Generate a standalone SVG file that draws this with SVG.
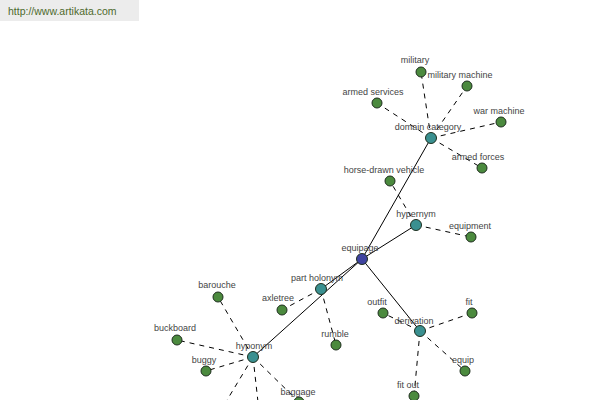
<svg xmlns="http://www.w3.org/2000/svg" width="600" height="400" viewBox="0 0 600 400">
<style>
.s{stroke:#000;stroke-width:1;fill:none}
.d{stroke:#000;stroke-width:1;fill:none;stroke-dasharray:5,5}
.n{stroke:#1e2e1e;stroke-width:1}
.leaf{fill:#4b8a3e}
.cat{fill:#3a9090}
.root{fill:#3f43a0}
text{font-family:"Liberation Sans",Arial,sans-serif;font-size:9px;fill:#444;text-anchor:middle}
</style>
<rect x="0" y="0" width="600" height="400" fill="#fff"/>
<g id="watermark">
<rect x="0" y="0" width="139" height="21" fill="#ececec"/>
<text x="8" y="15" style="text-anchor:start;font-size:10.5px;fill:#4e6a2c">http://www.artikata.com</text>
</g>
<g id="connectors">
<line class="s" x1="362" y1="259" x2="431" y2="138"/>
<line class="s" x1="362" y1="259" x2="416" y2="225"/>
<line class="s" x1="362" y1="259" x2="321" y2="289"/>
<line class="s" x1="362" y1="259" x2="253" y2="357"/>
<line class="s" x1="362" y1="259" x2="420" y2="331"/>
<line class="d" x1="431" y1="138" x2="421" y2="72"/>
<line class="d" x1="431" y1="138" x2="467" y2="86"/>
<line class="d" x1="431" y1="138" x2="377" y2="103"/>
<line class="d" x1="431" y1="138" x2="501" y2="122"/>
<line class="d" x1="431" y1="138" x2="482" y2="168"/>
<line class="d" x1="416" y1="225" x2="390" y2="181"/>
<line class="d" x1="416" y1="225" x2="471" y2="237"/>
<line class="d" x1="321" y1="289" x2="282" y2="310"/>
<line class="d" x1="321" y1="289" x2="336" y2="345"/>
<line class="d" x1="420" y1="331" x2="383" y2="313"/>
<line class="d" x1="420" y1="331" x2="472" y2="313"/>
<line class="d" x1="420" y1="331" x2="465" y2="371"/>
<line class="d" x1="420" y1="331" x2="414" y2="396"/>
<line class="d" x1="253" y1="357" x2="218" y2="297"/>
<line class="d" x1="253" y1="357" x2="177" y2="340"/>
<line class="d" x1="253" y1="357" x2="206" y2="371"/>
<line class="d" x1="253" y1="357" x2="299" y2="402"/>
<line class="d" x1="253" y1="357" x2="215" y2="420"/>
<line class="d" x1="253" y1="357" x2="260" y2="420"/>
</g>
<g id="equipage"><circle class="n root" cx="362" cy="259" r="5.5"/><text x="360" y="251">equipage</text></g>
<g id="domain-category"><circle class="n cat" cx="431" cy="138" r="5.5"/><text x="428" y="130">domain category</text></g>
<g id="hypernym"><circle class="n cat" cx="416" cy="225" r="5.5"/><text x="416" y="217">hypernym</text></g>
<g id="part-holonym"><circle class="n cat" cx="321" cy="289" r="5.5"/><text x="317" y="281">part holonym</text></g>
<g id="derivation"><circle class="n cat" cx="420" cy="331" r="5.5"/><text x="414" y="324">derivation</text></g>
<g id="hyponym"><circle class="n cat" cx="253" cy="357" r="5.5"/><text x="254" y="349">hyponym</text></g>
<g id="military"><circle class="n leaf" cx="421" cy="72" r="5"/><text x="415" y="63">military</text></g>
<g id="military-machine"><circle class="n leaf" cx="467" cy="86" r="5"/><text x="460" y="78">military machine</text></g>
<g id="armed-services"><circle class="n leaf" cx="377" cy="103" r="5"/><text x="373" y="95">armed services</text></g>
<g id="war-machine"><circle class="n leaf" cx="501" cy="122" r="5"/><text x="499" y="114">war machine</text></g>
<g id="armed-forces"><circle class="n leaf" cx="482" cy="168" r="5"/><text x="478" y="160">armed forces</text></g>
<g id="horse-drawn-vehicle"><circle class="n leaf" cx="390" cy="181" r="5"/><text x="384" y="173">horse-drawn vehicle</text></g>
<g id="equipment"><circle class="n leaf" cx="471" cy="237" r="5"/><text x="470" y="229">equipment</text></g>
<g id="barouche"><circle class="n leaf" cx="218" cy="297" r="5"/><text x="217" y="288">barouche</text></g>
<g id="axletree"><circle class="n leaf" cx="282" cy="310" r="5"/><text x="278" y="301">axletree</text></g>
<g id="rumble"><circle class="n leaf" cx="336" cy="345" r="5"/><text x="335" y="337">rumble</text></g>
<g id="outfit"><circle class="n leaf" cx="383" cy="313" r="5"/><text x="377" y="305">outfit</text></g>
<g id="fit"><circle class="n leaf" cx="472" cy="313" r="5"/><text x="469" y="305">fit</text></g>
<g id="equip"><circle class="n leaf" cx="465" cy="371" r="5"/><text x="463" y="363">equip</text></g>
<g id="fit-out"><circle class="n leaf" cx="414" cy="396" r="5"/><text x="408" y="388">fit out</text></g>
<g id="buckboard"><circle class="n leaf" cx="177" cy="340" r="5"/><text x="175" y="331">buckboard</text></g>
<g id="buggy"><circle class="n leaf" cx="206" cy="371" r="5"/><text x="204" y="363">buggy</text></g>
<g id="baggage"><circle class="n leaf" cx="299" cy="402" r="5"/><text x="298" y="395">baggage</text></g>
</svg>
